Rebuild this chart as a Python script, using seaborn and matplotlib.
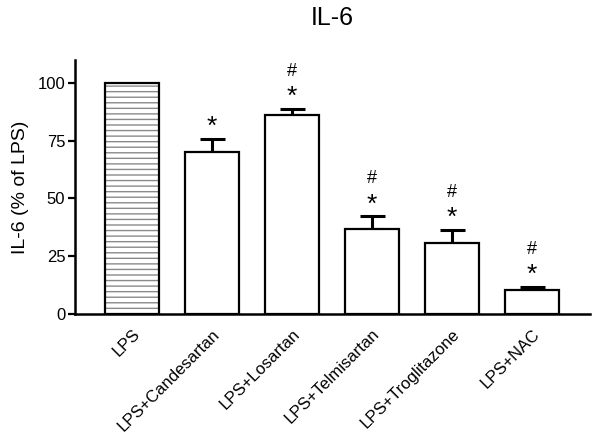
import numpy as np
import pandas as pd
import matplotlib
matplotlib.use("Agg")
import matplotlib.pyplot as plt
import seaborn as sns
from matplotlib.patches import Rectangle

# data
groups = ["LPS", "LPS+Candesartan", "LPS+Losartan", "LPS+Telmisartan",
          "LPS+Troglitazone", "LPS+NAC"]
il6_mean = [100.0, 70.0, 86.3, 36.9, 30.6, 10.5]
il6_sem = [0.0, 5.7, 2.6, 5.3, 5.6, 1.0]
star_marks = ["", "*", "*", "*", "*", "*"]
hash_marks = ["", "", "#", "#", "#", "#"]

sns.set_theme(style="ticks")
plt.rcParams["font.family"] = ["Liberation Sans", "DejaVu Sans"]
plt.rcParams["hatch.linewidth"] = 1.0
plt.rcParams["text.color"] = "black"
plt.rcParams["axes.labelcolor"] = "black"
plt.rcParams["xtick.color"] = "black"
plt.rcParams["ytick.color"] = "black"

df = pd.DataFrame({"group": groups, "il6": il6_mean})

fig = plt.figure(figsize=(6, 4.42), dpi=100)
ax = fig.add_axes([0.125, 0.29, 0.858, 0.574])

sns.barplot(data=df, x="group", y="il6", color="white", width=0.67,
            edgecolor="black", linewidth=1.6, errorbar=None, ax=ax, zorder=2)

# LPS bar: grey horizontal hatching under a black outline
lps = ax.patches[0]
lps.set_hatch("---")
lps.set_edgecolor("#8a8a8a")
lps.set_linewidth(0)
outline = Rectangle(lps.get_xy(), lps.get_width(), lps.get_height(),
                    fill=False, edgecolor="black", linewidth=1.6, zorder=3)
ax.add_patch(outline)

x = np.arange(len(groups))
has_err = np.array(il6_sem) > 0
ax.errorbar(x[has_err], np.array(il6_mean)[has_err],
            yerr=[np.zeros(has_err.sum()), np.array(il6_sem)[has_err]], fmt="none",
            ecolor="black", elinewidth=2.2, capsize=9, capthick=2.2, zorder=1)

for i in range(len(groups)):
    top = il6_mean[i] + il6_sem[i]
    if star_marks[i]:
        ax.annotate(star_marks[i], (x[i], top), xytext=(0, 0), textcoords="offset points",
                    ha="center", va="bottom", fontsize=19)
    if hash_marks[i]:
        ax.annotate(hash_marks[i], (x[i], top), xytext=(0, 21), textcoords="offset points",
                    ha="center", va="bottom", fontsize=13)

ax.set_ylim(0, 110)
ax.set_xlim(-0.71, 5.72)
ax.set_yticks([0, 25, 50, 75, 100])
ax.set_xlabel("")
ax.set_ylabel("IL-6 (% of LPS)", fontsize=14, labelpad=6)
ax.set_title("IL-6", fontsize=18, pad=25)
ax.set_xticks(x)
ax.set_xticklabels(groups, rotation=45, ha="right", rotation_mode="anchor", fontsize=12)
ax.tick_params(axis="y", labelsize=12, width=1.6, length=5, pad=2)
ax.tick_params(axis="x", width=0, length=5, pad=4)
sns.despine(ax=ax)
for s in ["left", "bottom"]:
    ax.spines[s].set_linewidth(1.8)
    ax.spines[s].set_color("black")

fig.savefig("out.png", dpi=100)
